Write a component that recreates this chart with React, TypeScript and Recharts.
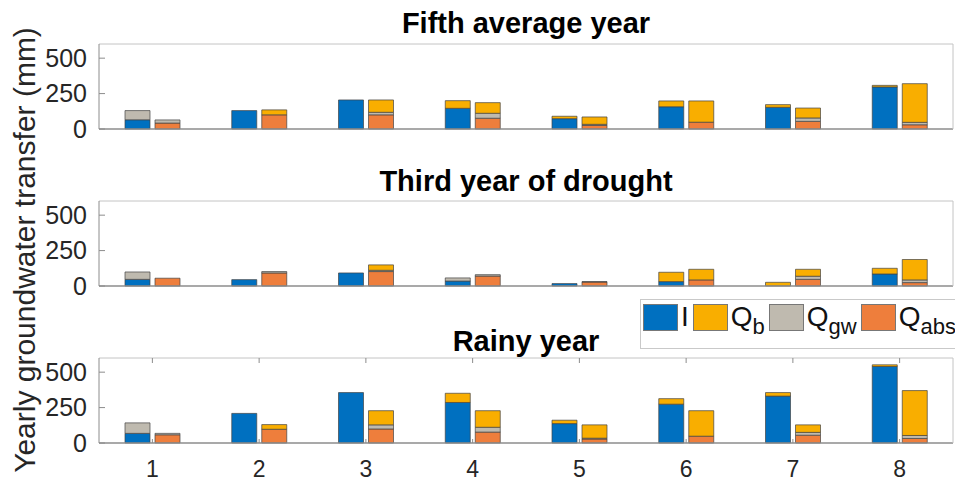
import React from 'react';
import { BarChart, Bar, XAxis, YAxis } from 'recharts';

const groups = ['1', '2', '3', '4', '5', '6', '7', '8'];
const yTicks = [0, 250, 500];

// Fifth average year
const avgI = [65, 130, 205, 146, 73, 157, 153, 297];
const avgQbIn = [0, 0, 0, 54, 17, 41, 19, 11];
const avgQgwIn = [65, 0, 0, 0, 0, 0, 0, 0];
const avgQabs = [42, 100, 100, 76, 25, 48, 54, 30];
const avgQgwOut = [22, 0, 18, 35, 8, 0, 24, 17];
const avgQbOut = [0, 35, 87, 75, 52, 150, 70, 273];

// Third year of drought
const drI = [47, 45, 92, 35, 17, 31, 0, 85];
const drQbIn = [0, 0, 0, 0, 0, 66, 26, 40];
const drQgwIn = [52, 0, 0, 22, 0, 0, 0, 0];
const drQabs = [55, 92, 102, 70, 28, 43, 47, 24];
const drQgwOut = [0, 10, 9, 10, 3, 0, 22, 19];
const drQbOut = [0, 0, 38, 0, 0, 75, 49, 144];

// Rainy year
const rnI = [68, 209, 356, 286, 137, 274, 331, 540];
const rnQbIn = [0, 0, 0, 65, 24, 39, 25, 12];
const rnQgwIn = [74, 0, 0, 0, 0, 0, 0, 0];
const rnQabs = [58, 97, 99, 77, 28, 48, 55, 32];
const rnQgwOut = [10, 0, 29, 34, 6, 0, 20, 21];
const rnQbOut = [0, 33, 100, 117, 94, 180, 53, 317];

const COLORS = {
  I: '#0070C0',
  Qb: '#F9AE00',
  Qgw: '#BFBAAF',
  Qabs: '#EE7E3C',
};

const legendItems = [
  { main: 'I', sub: '', color: COLORS.I },
  { main: 'Q', sub: 'b', color: COLORS.Qb },
  { main: 'Q', sub: 'gw', color: COLORS.Qgw },
  { main: 'Q', sub: 'abs', color: COLORS.Qabs },
];

const FONT = '"Liberation Sans", Arial, Helvetica, sans-serif';
const EDGE = '#444';
const AXIS_DARK = '#8c8c8c';
const AXIS_LIGHT = '#c4c4c4';

const makeRows = (
  I: number[], qbIn: number[], qgwIn: number[],
  qabs: number[], qgwOut: number[], qbOut: number[]
) =>
  groups.map((g, i) => ({
    name: g,
    I: I[i],
    QbIn: qbIn[i],
    QgwIn: qgwIn[i],
    Qabs: qabs[i],
    QgwOut: qgwOut[i],
    QbOut: qbOut[i],
  }));

const panels = [
  { title: 'Fifth average year', rows: makeRows(avgI, avgQbIn, avgQgwIn, avgQabs, avgQgwOut, avgQbOut), top: 0, height: 150, mTop: 43, mBottom: 20, labels: false },
  { title: 'Third year of drought', rows: makeRows(drI, drQbIn, drQgwIn, drQabs, drQgwOut, drQbOut), top: 150, height: 155, mTop: 50, mBottom: 18, labels: false },
  { title: 'Rainy year', rows: makeRows(rnI, rnQbIn, rnQgwIn, rnQabs, rnQgwOut, rnQbOut), top: 300, height: 181, mTop: 57, mBottom: 0, labels: true },
];

const titleBaselines = [33, 191, 351];

const LeftTick = (props: any) => {
  const { x, y, payload } = props;
  return (
    <g>
      <text x={x - 12} y={y} dy={8.8} textAnchor="end" fontSize={25} fill="#262626" fontFamily={FONT}>
        {payload.value}
      </text>
      <line x1={x} x2={x + 6} y1={y} y2={y} stroke={AXIS_DARK} />
    </g>
  );
};

const RightTick = (props: any) => {
  const { x, y } = props;
  return <line x1={x - 6} x2={x} y1={y} y2={y} stroke={AXIS_LIGHT} />;
};

const TopTick = (props: any) => {
  const { x, y } = props;
  return <line x1={x} x2={x} y1={y} y2={y + 5} stroke={AXIS_DARK} />;
};

const BottomTick = (props: any) => {
  const { x, y, payload } = props;
  return (
    <g>
      <line x1={x} x2={x} y1={y} y2={y - 4} stroke={AXIS_DARK} />
      <text x={x} y={y + 34} textAnchor="middle" fontSize={23} fill="#262626" fontFamily={FONT}>
        {payload.value}
      </text>
    </g>
  );
};

const Panel = ({ p }: { p: typeof panels[number] }) => (
  <div style={{ position: 'absolute', left: 0, top: p.top }}>
    <BarChart
      width={955}
      height={p.height}
      data={p.rows}
      margin={{ top: p.mTop, right: 1, bottom: p.mBottom, left: 0 }}
      barSize={25}
      barGap={5}
    >
      <XAxis
        dataKey="name"
        xAxisId="top"
        orientation="top"
        height={1}
        interval={0}
        axisLine={{ stroke: AXIS_LIGHT }}
        tickLine={false}
        tickSize={0}
        tickMargin={0}
        tick={p.labels ? <TopTick /> : false}
      />
      <XAxis
        dataKey="name"
        height={p.labels ? 38 : 1}
        interval={0}
        axisLine={{ stroke: AXIS_DARK, strokeWidth: 1.5 }}
        tickLine={false}
        tickSize={0}
        tickMargin={0}
        tick={p.labels ? <BottomTick /> : false}
      />
      <YAxis
        width={99}
        type="number"
        domain={[0, 600]}
        ticks={yTicks}
        axisLine={{ stroke: AXIS_DARK }}
        tickLine={false}
        tickSize={0}
        tickMargin={0}
        tick={<LeftTick />}
      />
      <YAxis
        yAxisId="r"
        orientation="right"
        width={1}
        type="number"
        domain={[0, 600]}
        ticks={yTicks}
        axisLine={{ stroke: AXIS_LIGHT }}
        tickLine={false}
        tickSize={0}
        tickMargin={0}
        tick={<RightTick />}
      />
      <Bar dataKey="I" stackId="in" fill={COLORS.I} stroke={EDGE} strokeWidth={0.7} isAnimationActive={false} />
      <Bar dataKey="QbIn" stackId="in" fill={COLORS.Qb} stroke={EDGE} strokeWidth={0.7} isAnimationActive={false} />
      <Bar dataKey="QgwIn" stackId="in" fill={COLORS.Qgw} stroke={EDGE} strokeWidth={0.7} isAnimationActive={false} />
      <Bar dataKey="Qabs" stackId="out" fill={COLORS.Qabs} stroke={EDGE} strokeWidth={0.7} isAnimationActive={false} />
      <Bar dataKey="QgwOut" stackId="out" fill={COLORS.Qgw} stroke={EDGE} strokeWidth={0.7} isAnimationActive={false} />
      <Bar dataKey="QbOut" stackId="out" fill={COLORS.Qb} stroke={EDGE} strokeWidth={0.7} isAnimationActive={false} />
    </BarChart>
  </div>
);

export default function App() {
  return (
    <div
      style={{
        position: 'absolute',
        left: 0,
        top: 0,
        width: 955,
        height: 481,
        overflow: 'hidden',
        background: '#fff',
        fontFamily: FONT,
      }}
    >
      {panels.map((p) => (
        <Panel key={p.title} p={p} />
      ))}
      <svg width={955} height={481} style={{ position: 'absolute', left: 0, top: 0, pointerEvents: 'none' }}>
        {panels.map((p, i) => (
          <text
            key={p.title}
            x={526}
            y={titleBaselines[i]}
            textAnchor="middle"
            fontSize={29}
            fontWeight="bold"
            fill="#000"
            fontFamily={FONT}
          >
            {p.title}
          </text>
        ))}
        <text
          transform="translate(35, 250) rotate(-90)"
          textAnchor="middle"
          fontSize={30}
          fill="#262626"
          fontFamily={FONT}
        >
          Yearly groundwater transfer (mm)
        </text>
      </svg>
      <div
        style={{
          position: 'absolute',
          left: 640,
          top: 299,
          width: 330,
          height: 48,
          border: '1px solid #c9c9c9',
          background: '#fff',
          display: 'flex',
          alignItems: 'flex-start',
          paddingLeft: 2,
          boxSizing: 'content-box',
        }}
      >
        {legendItems.map((it) => (
          <div key={it.main + it.sub} style={{ display: 'flex', alignItems: 'flex-start', marginRight: 4 }}>
            <div
              style={{
                width: 35,
                height: 27,
                marginTop: 4,
                background: it.color,
                border: '1px solid #777',
                boxSizing: 'border-box',
              }}
            />
            <span style={{ fontSize: 28, lineHeight: '28px', marginTop: 3, marginLeft: 3, color: '#111', whiteSpace: 'nowrap' }}>
              {it.main}
              {it.sub && (
                <span style={{ fontSize: 22, position: 'relative', top: 8 }}>{it.sub}</span>
              )}
            </span>
          </div>
        ))}
      </div>
    </div>
  );
}
